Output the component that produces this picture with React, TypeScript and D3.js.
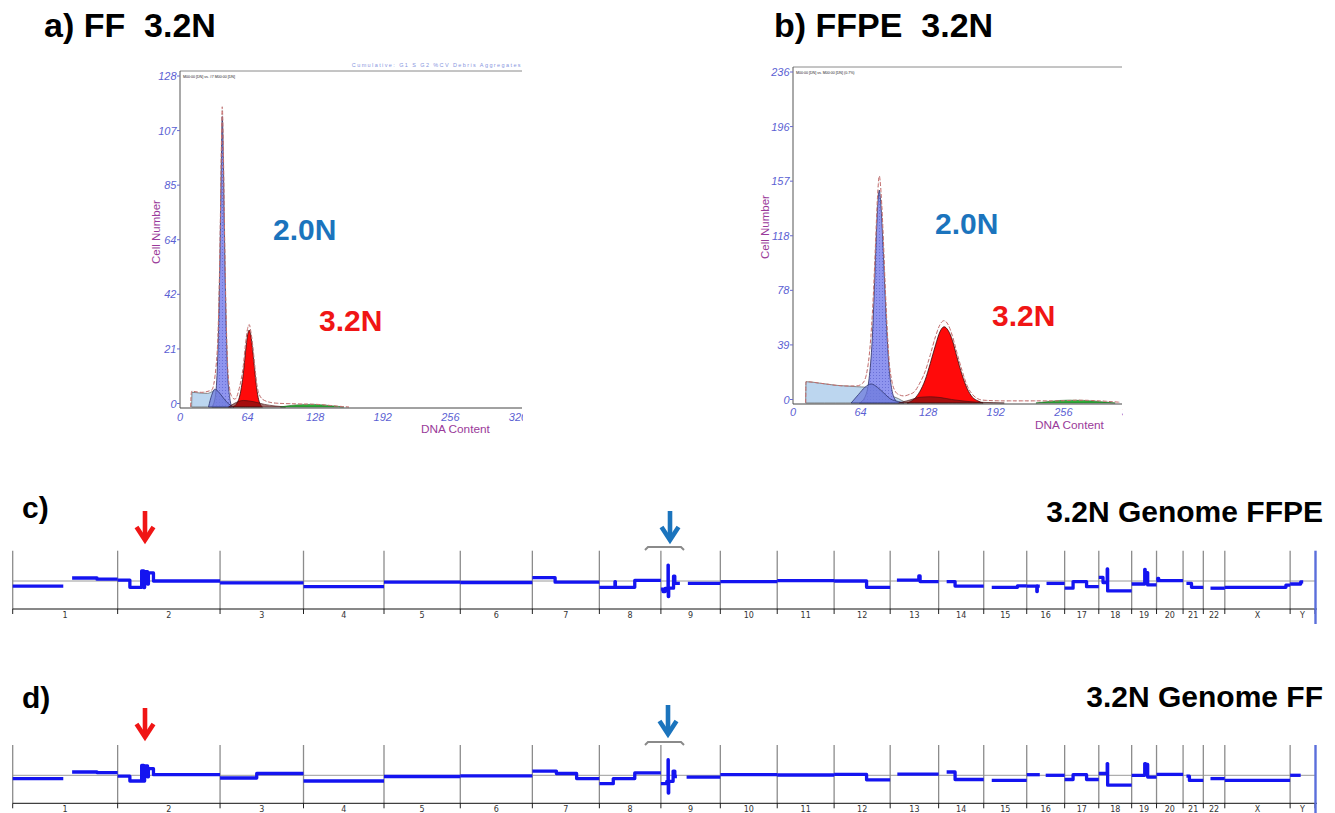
import React from 'react';
import * as d3 from 'd3';

// canvas
const W = 1335;
const H = 813;
const FONT = 'Liberation Sans, Arial, Helvetica, sans-serif';

type Pt = [number, number];
type Seg = [string, number, number, number];

// ---------- flow cytometry histograms (DNA content vs cell number) ----------
const xTickLabels = ['0', '64', '128', '192', '256', '320'];

// a) FF
const ffYLabels = ['0', '21', '42', '64', '85', '107', '128'];
const ffDebris: Pt[] = [[11, 0], [11.4, 5.6], [15, 5.5], [20, 5.3], [26, 5.2], [30, 5.8], [33, 6.4], [36, 4.5], [40, 2], [44, 0.8], [48, 0]];
const ffHump: Pt[] = [[27, 0], [30, 4.5], [33, 6.8], [36, 6], [40, 4], [44, 2], [48, 0.6], [51, 0]];
const ffG1: Pt[] = [[30, 0], [33, 3], [35, 12], [36.5, 30], [38, 62], [39, 90], [40, 111], [41, 95], [42, 68], [43.5, 35], [45, 14], [47, 4], [49, 0]];
const ffRed: Pt[] = [[50, 0], [54, 1.5], [57, 5], [60, 13], [62, 21], [64, 27.5], [65.5, 29.4], [67, 27.5], [69, 21], [71, 13], [73, 6], [75, 2], [78, 0]];
const ffRedHump: Pt[] = [[46, 0], [52, 1.5], [60, 2.5], [70, 2], [80, 1], [90, 0.4], [100, 0]];
const ffGreen: Pt[] = [[95, 0], [110, 0.8], [125, 1], [135, 0.8], [150, 0.2], [155, 0]];
const ffFit: Pt[] = [[10, 0], [11, 6], [20, 5.6], [30, 6.5], [34, 15], [36.5, 35], [38, 66], [39, 95], [40, 114.7], [41, 100], [42, 72], [43.5, 38], [45, 17], [47, 7], [49, 4], [52, 3], [56, 7], [60, 16], [62, 24], [64, 30], [65.5, 31.5], [67, 29], [69, 23], [71, 15], [73, 8], [76, 4], [80, 2.5], [90, 1.5], [110, 1.2], [130, 1], [150, 0.3], [160, 0]];

// b) FFPE
const ffpeYLabels = ['0', '39', '78', '118', '157', '196', '236'];
const ffpeDebris: Pt[] = [[12, 0], [12.3, 15], [20, 14.5], [30, 13.5], [40, 12.5], [50, 12], [60, 11.5], [70, 11], [80, 9], [90, 6], [100, 3], [105, 1], [110, 0]];
const ffpeHump: Pt[] = [[55, 0], [62, 6], [68, 11], [74, 13.4], [80, 11], [86, 7], [92, 3], [100, 1], [105, 0]];
const ffpeG1: Pt[] = [[63, 0], [68, 4], [72, 17], [75, 45], [77, 80], [79, 120], [80.5, 143], [81.7, 150], [83, 142], [85, 115], [87, 80], [89, 48], [91, 25], [94, 8], [97, 2], [100, 0]];
const ffpeRed: Pt[] = [[108, 0], [115, 3], [120, 8], [125, 16], [130, 28], [135, 41], [139, 50], [143, 53.7], [147, 51], [151, 44], [155, 33], [160, 20], [165, 10], [170, 4], [175, 1.5], [180, 0]];
const ffpeRedHump: Pt[] = [[100, 0], [110, 2], [120, 4], [130, 4.4], [140, 3.8], [150, 2.5], [160, 1.5], [175, 0.6], [190, 0.2], [200, 0]];
const ffpeGreen: Pt[] = [[230, 0], [245, 1.3], [260, 2], [275, 1.8], [290, 1], [300, 0.3], [305, 0]];
const ffpeFit: Pt[] = [[12, 0], [12.3, 15], [30, 13.5], [50, 12], [60, 12], [66, 14], [70, 22], [73, 40], [76, 75], [78, 110], [80, 145], [81.7, 160], [83, 152], [85, 125], [87, 88], [89, 55], [91, 30], [94, 14], [97, 8], [100, 6], [105, 5], [110, 6], [115, 8], [120, 14], [125, 22], [130, 34], [135, 47], [139, 55], [143, 58], [147, 55], [151, 47], [155, 36], [160, 23], [165, 12], [170, 6], [175, 3], [180, 2], [200, 1.5], [250, 1.5], [270, 2], [290, 1.5], [310, 0.5]];

// ---------- genome copy-number profiles ----------
const chromNames = ['1', '2', '3', '4', '5', '6', '7', '8', '9', '10', '11', '12', '13', '14', '15', '16', '17', '18', '19', '20', '21', '22', 'X', 'Y'];
const chromMb = [249, 243, 198, 191, 181, 171, 159, 146, 141, 135, 135, 133, 115, 107, 102, 90, 81, 78, 59, 63, 48, 51, 155, 59];

// [chromosome, start Mb, end Mb, log2 ratio]
const ffpeSegments: Seg[] = [
  ['1', 0, 120, -0.17], ['1', 141, 200, 0.1], ['1', 200, 249, 0.06],
  ['2', 0, 29, 0.03], ['2', 29, 57, -0.21], ['2', 57, 62, 0.34], ['2', 62, 64, -0.22], ['2', 64, 71, 0.31], ['2', 71, 73, -0.1], ['2', 73, 85, 0.27], ['2', 85, 243, 0.0],
  ['3', 0, 198, -0.06],
  ['4', 0, 191, -0.19],
  ['5', 0, 181, -0.04],
  ['6', 0, 171, -0.05],
  ['7', 0, 54, 0.11], ['7', 54, 159, -0.04],
  ['8', 0, 37, -0.21], ['8', 37, 38, -0.02], ['8', 38, 84, -0.21], ['8', 84, 146, 0.02],
  ['9', 0, 5, -0.27], ['9', 5, 10, -0.35], ['9', 10, 17, -0.25], ['9', 17, 17.5, 0.53], ['9', 17.5, 18.5, -0.52], ['9', 18.5, 30, -0.24], ['9', 30, 33, 0.16], ['9', 33, 45, -0.08], ['9', 64, 141, -0.08],
  ['10', 0, 135, -0.02],
  ['11', 0, 135, 0.01],
  ['12', 0, 77, 0.0], ['12', 77, 133, -0.21],
  ['13', 16, 68, 0.03], ['13', 68, 71, 0.17], ['13', 71, 115, -0.02],
  ['14', 19, 39, -0.02], ['14', 39, 107, -0.17],
  ['15', 19, 80, -0.21], ['15', 80, 102, -0.16],
  ['16', 0, 24, -0.17], ['16', 24, 25, -0.35], ['16', 25, 31, -0.17], ['16', 47, 90, -0.08],
  ['17', 0, 20, -0.24], ['17', 20, 52, -0.02], ['17', 52, 81, -0.19],
  ['18', 0, 10, 0.12], ['18', 10, 20, -0.05], ['18', 20, 21, 0.4], ['18', 21, 78, -0.33],
  ['19', 0, 31, -0.1], ['19', 31, 32, 0.39], ['19', 32, 38, 0.28], ['19', 38, 59, -0.13],
  ['20', 0, 3, 0.01], ['20', 3, 5, 0.09], ['20', 5, 63, 0.01],
  ['21', 8, 20, -0.08], ['21', 20, 48, -0.21],
  ['22', 17, 51, -0.24],
  ['X', 0, 145, -0.21], ['X', 145, 155, -0.14],
  ['Y', 0, 25, -0.1], ['Y', 25, 31, -0.03],
];

const ffSegments: Seg[] = [
  ['1', 0, 120, -0.11], ['1', 141, 200, 0.11], ['1', 200, 249, 0.09],
  ['2', 0, 29, -0.03], ['2', 29, 57, -0.19], ['2', 57, 62, 0.33], ['2', 62, 64, -0.19], ['2', 64, 71, 0.31], ['2', 71, 73, -0.05], ['2', 73, 85, 0.22], ['2', 85, 243, 0.02],
  ['3', 0, 87, -0.09], ['3', 87, 198, 0.06],
  ['4', 0, 191, -0.19],
  ['5', 0, 181, -0.04],
  ['6', 0, 171, -0.02],
  ['7', 0, 57, 0.14], ['7', 57, 105, 0.06], ['7', 105, 159, -0.11],
  ['8', 0, 33, -0.28], ['8', 33, 84, -0.11], ['8', 84, 146, 0.08],
  ['9', 0, 14, -0.28], ['9', 14, 17, -0.2], ['9', 17, 17.5, 0.52], ['9', 17.5, 18.5, -0.59], ['9', 18.5, 29, -0.2], ['9', 29, 33, 0.14], ['9', 33, 38, -0.04], ['9', 61, 141, -0.06],
  ['10', 0, 135, 0.02],
  ['11', 0, 135, 0.01],
  ['12', 0, 77, 0.03], ['12', 77, 133, -0.15],
  ['13', 17, 115, 0.04],
  ['14', 19, 39, 0.11], ['14', 39, 107, -0.14],
  ['15', 19, 102, -0.17],
  ['16', 0, 31, 0.02], ['16', 45, 90, 0.0],
  ['17', 0, 20, -0.14], ['17', 20, 52, 0.02], ['17', 52, 81, -0.14],
  ['18', 0, 20, 0.06], ['18', 20, 21, 0.39], ['18', 21, 78, -0.33],
  ['19', 0, 31, 0.0], ['19', 31, 33, 0.39], ['19', 33, 36, 0.15], ['19', 36, 38, 0.36], ['19', 38, 59, -0.06],
  ['20', 0, 63, 0.03],
  ['21', 8, 15, -0.03], ['21', 15, 48, -0.17],
  ['22', 17, 51, -0.11],
  ['X', 0, 155, -0.17],
  ['Y', 0, 25, 0.0],
];

// ---------- histogram panel ----------
type HistCfg = {
  id: string; left: number; right: number; base: number; top: number; yMax: number;
  yLabels: string[]; xLabelY: number; cellX: number; cellY: number; dnaX: number; dnaY: number;
  layers: { debris: Pt[]; hump: Pt[]; g1: Pt[]; red: Pt[]; redHump: Pt[]; green: Pt[]; fit: Pt[] };
  note: string; header?: string;
};

const Hist = ({ p }: { p: HistCfg }) => {
  const x = d3.scaleLinear().domain([0, 320]).range([p.left, p.left + 338]);
  const y = d3.scaleLinear().domain([0, p.yMax]).range([p.base, p.top]);
  const ly = d3.scaleLinear().domain([0, p.yMax]).range([p.base - 3.5, p.top + 4]);
  const area = d3.area<Pt>().x(d => x(d[0])).y0(y(0)).y1(d => y(d[1])).curve(d3.curveMonotoneX);
  const line = d3.line<Pt>().x(d => x(d[0])).y(d => y(d[1])).curve(d3.curveMonotoneX);
  const n = p.yLabels.length - 1;
  const L = p.layers;
  return (
    <g>
      <clipPath id={`clip-${p.id}`}>
        <rect x={p.left - 40} y={p.top - 30} width={p.right - p.left + 41} height={400} />
      </clipPath>
      {/* frame */}
      <line x1={p.left} x2={p.right} y1={p.top - 1} y2={p.top - 1} stroke="#8a8a8a" strokeWidth={1} />
      {p.header && (
        <text x={p.right} y={p.top - 5} textAnchor="end" fontFamily={FONT} fontSize={5.5} fill="#8795e0" letterSpacing={1.4}>{p.header}</text>
      )}
      <text x={p.left + 3} y={p.top + 6} fontFamily={FONT} fontSize={3.6} fill="#222">{p.note}</text>
      {/* components */}
      <path d={area(L.debris) || ''} fill="#bcd6ef" stroke="#6b6b6b" strokeWidth={0.8} />
      <path d={area(L.g1) || ''} fill="url(#g1dots)" stroke="#2b2b5e" strokeWidth={0.8} />
      <path d={area(L.hump) || ''} fill="#6f7cdc" fillOpacity={0.75} stroke="#2c3470" strokeWidth={0.8} />
      <path d={area(L.red) || ''} fill="#ff0a0a" stroke="#3a0a0a" strokeWidth={0.8} />
      <path d={area(L.redHump) || ''} fill="#6b1010" fillOpacity={0.6} stroke="#401010" strokeWidth={0.6} />
      <path d={area(L.green) || ''} fill="#2fae3a" stroke="#1a6a20" strokeWidth={0.6} />
      <path d={line(L.fit) || ''} fill="none" stroke="#c96a6a" strokeWidth={1} strokeDasharray="4,2" />
      <path d={line(L.fit) || ''} fill="none" stroke="#9a9a9a" strokeWidth={0.5} strokeDasharray="1,3" />
      {/* axes */}
      <line x1={p.left} x2={p.left} y1={p.top - 1} y2={p.base + 1} stroke="#555" strokeWidth={1} />
      <line x1={p.left} x2={p.right} y1={p.base + 1} y2={p.base + 1} stroke="#444" strokeWidth={1} />
      {p.yLabels.map((t, i) => (
        <g key={t}>
          <line x1={p.left - 3} x2={p.left} y1={ly((i * p.yMax) / n)} y2={ly((i * p.yMax) / n)} stroke="#6a6ad0" />
          <text x={p.left - 3.5} y={ly((i * p.yMax) / n) + 4} textAnchor="end" fontFamily={FONT} fontStyle="italic" fontSize={11} fill="#5b5fd3">{t}</text>
        </g>
      ))}
      <g clipPath={`url(#clip-${p.id})`}>
        {xTickLabels.map(t => (
          <text key={t} x={x(+t)} y={p.xLabelY} textAnchor="middle" fontFamily={FONT} fontStyle="italic" fontSize={11} fill="#5b5fd3">{t}</text>
        ))}
      </g>
      <text transform={`translate(${p.cellX},${p.cellY}) rotate(-90)`} textAnchor="middle" fontFamily={FONT} fontSize={11.5} fill="#9a3a9a">Cell Number</text>
      <text x={p.dnaX} y={p.dnaY} fontFamily={FONT} fontSize={11.8} fill="#9a3a9a">DNA Content</text>
    </g>
  );
};

const histA: HistCfg = {
  id: 'a', left: 180, right: 522, base: 407, top: 72, yMax: 128, yLabels: ffYLabels,
  xLabelY: 421, cellX: 160, cellY: 232, dnaX: 421, dnaY: 433,
  layers: { debris: ffDebris, hump: ffHump, g1: ffG1, red: ffRed, redHump: ffRedHump, green: ffGreen, fit: ffFit },
  note: 'M00:00 [DN] vs. #7 M00:00 [DN]',
  header: 'Cumulative: G1  S  G2  %CV  Debris  Aggregates',
};

const histB: HistCfg = {
  id: 'b', left: 793, right: 1122, base: 403, top: 68, yMax: 236, yLabels: ffpeYLabels,
  xLabelY: 416, cellX: 769, cellY: 227, dnaX: 1035, dnaY: 429,
  layers: { debris: ffpeDebris, hump: ffpeHump, g1: ffpeG1, red: ffpeRed, redHump: ffpeRedHump, green: ffpeGreen, fit: ffpeFit },
  note: 'M00:00 [DN] vs. M00:00 [DN]  (0.7%)',
};

// ---------- genome track ----------
const chromStart = [0, ...d3.cumsum(chromMb)];
const gx = d3.scaleLinear().domain([0, chromStart[chromStart.length - 1]]).range([12.7, 1315]);

const Genome = ({ top, segments }: { top: number; segments: Seg[] }) => {
  const mid = top + 30.3;
  const axis = top + 58.3;
  const v = d3.scaleLinear().domain([-1, 1]).range([mid + 30, mid - 30]);
  const line = d3.line<Pt>().x(d => gx(d[0])).y(d => v(d[1]));
  // contiguous runs become one path
  const runs: Pt[][] = [];
  let prev: Seg | null = null;
  segments.forEach(s => {
    const off = chromStart[chromNames.indexOf(s[0])];
    if (!prev || prev[0] !== s[0] || prev[2] !== s[1]) runs.push([]);
    const r = runs[runs.length - 1];
    r.push([off + s[1], s[3]], [off + s[2], s[3]]);
    prev = s;
  });
  return (
    <g>
      <line x1={gx.range()[0]} x2={gx.range()[1]} y1={mid} y2={mid} stroke="#9a9a9a" strokeWidth={1} />
      {chromStart.map((c, i) => (
        <g key={i}>
          {i < chromStart.length - 1 && <line x1={gx(c)} x2={gx(c)} y1={top} y2={axis} stroke="#8c8c8c" strokeWidth={1.3} />}
          <line x1={gx(c)} x2={gx(c)} y1={axis} y2={axis + 5} stroke="#222" strokeWidth={1} />
        </g>
      ))}
      <line x1={gx.range()[0]} x2={gx.range()[1] + 2} y1={axis} y2={axis} stroke="#111" strokeWidth={1} />
      {chromNames.map((c, i) => (
        <text key={c} x={gx((chromStart[i] + chromStart[i + 1]) / 2)} y={axis + 8.5} textAnchor="middle" fontFamily="DejaVu Sans, Verdana, sans-serif" fontSize={8} fill="#333">{c}</text>
      ))}
      {runs.map((r, i) => (
        <path key={i} d={line(r) || ''} fill="none" stroke="#1414f0" strokeWidth={3.3} strokeLinejoin="round" />
      ))}
      <line x1={1315.5} x2={1315.5} y1={top} y2={axis + 15} stroke="#5b6fdb" strokeWidth={2.4} />
    </g>
  );
};

const Arrow = ({ x, tip, color }: { x: number; tip: number; color: string }) => (
  <g stroke={color} fill="none" strokeWidth={4.6}>
    <line x1={x} x2={x} y1={tip - 32} y2={tip - 3} />
    <polyline points={`${x - 8.5},${tip - 16} ${x},${tip - 3} ${x + 8.5},${tip - 16}`} strokeLinejoin="miter" strokeMiterlimit={10} />
  </g>
);

const Bracket = ({ y }: { y: number }) => (
  <path d={`M645,${y + 3} L648,${y} L681,${y} L684,${y + 3}`} fill="none" stroke="#8a8a8a" strokeWidth={2} />
);

const bold = { fontFamily: FONT, fontWeight: 700 as const };

export default function App() {
  return (
    <svg width={W} height={H} style={{ position: 'absolute', left: 0, top: 0, background: '#fff' }}>
      <defs>
        <pattern id="g1dots" width={3} height={3} patternUnits="userSpaceOnUse">
          <rect width={3} height={3} fill="#8f95ef" />
          <rect width={1} height={1} fill="#6a70d8" />
        </pattern>
      </defs>

      <text x={44} y={37} fontSize={34} {...bold} style={{ whiteSpace: 'pre' }}>a) FF  3.2N</text>
      <text x={774} y={37} fontSize={34} {...bold} style={{ whiteSpace: 'pre' }}>b) FFPE  3.2N</text>

      <Hist p={histA} />
      <Hist p={histB} />

      <text x={273} y={240} fontSize={30} {...bold} fill="#1b74bd">2.0N</text>
      <text x={319} y={331} fontSize={30} {...bold} fill="#f01515">3.2N</text>
      <text x={935} y={234} fontSize={30} {...bold} fill="#1b74bd">2.0N</text>
      <text x={992} y={326} fontSize={30} {...bold} fill="#f01515">3.2N</text>

      <text x={22} y={518} fontSize={30} {...bold}>c)</text>
      <text x={1323} y={522} fontSize={30} {...bold} textAnchor="end">3.2N Genome FFPE</text>
      <Arrow x={145} tip={543} color="#f01515" />
      <Arrow x={670} tip={543} color="#1b74bd" />
      <Bracket y={547} />
      <Genome top={550.7} segments={ffpeSegments} />

      <text x={22} y={708} fontSize={30} {...bold}>d)</text>
      <text x={1323} y={707} fontSize={30} {...bold} textAnchor="end">3.2N Genome FF</text>
      <Arrow x={145} tip={740} color="#f01515" />
      <Arrow x={668} tip={737} color="#1b74bd" />
      <Bracket y={742} />
      <Genome top={745} segments={ffSegments} />
    </svg>
  );
}
